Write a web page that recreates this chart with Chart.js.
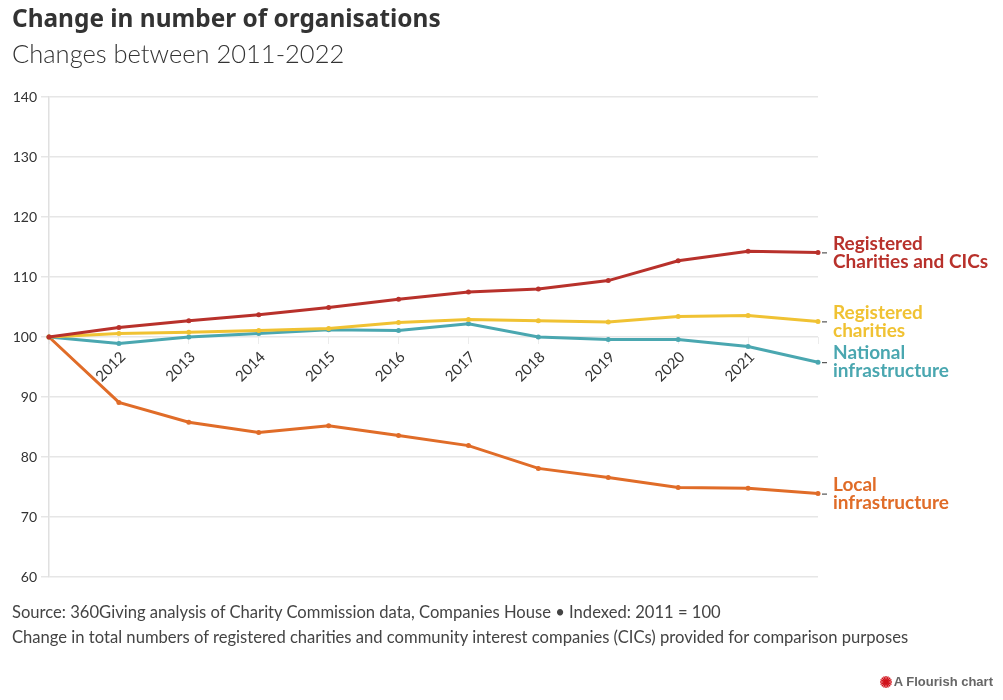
<!doctype html>
<html>
<head>
    <meta charset="utf-8">
    <title>Change in number of organisations</title>
    <script src="https://cdn.jsdelivr.net/npm/chart.js@4.4.0/dist/chart.umd.min.js"></script>
    <style>
    body {
        margin: 0;
        background: #fff;
        font-family: Lato, "Noto Sans", sans-serif;
        color: #333;
    }
    #wrap {
        position: relative;
        width: 1003px;
        height: 700px;
        overflow: hidden;
    }
    canvas { position: absolute; left: 0; top: 0; }
    .title {
        position: absolute; left: 12px; top: 3px;
        font-family: "Noto Sans", Lato, sans-serif;
        font-size: 24.4px; font-weight: bold; color: #333; line-height: 30px;
    }
    .subtitle {
        position: absolute; left: 12px; top: 38px;
        font-size: 25.5px; font-weight: 300; color: #333; line-height: 30px;
    }
    .notes {
        position: absolute; left: 12px; top: 600px;
        font-size: 16.6px; color: #444; line-height: 25px;
    }
    .brand {
        position: absolute; right: 10px; top: 674px;
        font-family: "Liberation Sans", Arial, sans-serif;
        font-size: 13px; font-weight: bold; color: #666;
    }
    .brand svg { vertical-align: -2px; margin-right: 2px; }
    </style>
</head>
<body>
<div id="wrap">
    <canvas id="canvas" width="1003" height="700"></canvas>
    <div class="title">Change in number of organisations</div>
    <div class="subtitle">Changes between 2011-2022</div>
    <div class="notes">
        Source: 360Giving analysis of Charity Commission data, Companies House • Indexed: 2011 = 100<br>
        Change in total numbers of registered charities and community interest companies (CICs) provided for comparison purposes
    </div>
    <div class="brand"><svg width="12" height="12" viewBox="-6 -6 12 12">
        <g stroke="#d1121b" stroke-width="1.4">
            <line x1="-6" y1="0" x2="6" y2="0"/><line x1="0" y1="-6" x2="0" y2="6"/>
            <line x1="-4.2" y1="-4.2" x2="4.2" y2="4.2"/><line x1="-4.2" y1="4.2" x2="4.2" y2="-4.2"/>
            <line x1="-5.5" y1="-2.3" x2="5.5" y2="2.3"/><line x1="-5.5" y1="2.3" x2="5.5" y2="-2.3"/>
            <line x1="-2.3" y1="-5.5" x2="2.3" y2="5.5"/><line x1="2.3" y1="-5.5" x2="-2.3" y2="5.5"/>
        </g><circle r="2.6" fill="#d1121b"/></svg>A Flourish chart</div>
</div>

<script>
    var years = ['2011', '2012', '2013', '2014', '2015', '2016', '2017', '2018', '2019', '2020', '2021', '2022'];

    var charitiesAndCics    = [100, 101.6, 102.7, 103.7, 104.9, 106.3, 107.5, 108.0, 109.4, 112.7, 114.3, 114.1];
    var registeredCharities = [100, 100.6, 100.8, 101.1, 101.4, 102.4, 102.9, 102.7, 102.5, 103.4, 103.6, 102.6];
    var nationalInfra       = [100, 98.9, 100.0, 100.6, 101.2, 101.1, 102.2, 100.0, 99.6, 99.6, 98.4, 95.8];
    var localInfra          = [100, 89.1, 85.8, 84.1, 85.2, 83.6, 81.9, 78.1, 76.6, 74.9, 74.8, 73.9];

    var yTicks = [60, 70, 80, 90, 100, 110, 120, 130, 140];

    var seriesLabels = [
        ['Registered', 'Charities and CICs'],
        ['Registered', 'charities'],
        ['National', 'infrastructure'],
        ['Local', 'infrastructure']
    ];
    var seriesColors = ['#b8312b', '#f0c233', '#4aa7b0', '#e06c28'];

    function makeSet(label, data, color) {
        return {
            label: label,
            data: data,
            borderColor: color,
            backgroundColor: color,
            borderWidth: 3,
            pointRadius: 2.5,
            pointHoverRadius: 3,
            pointBorderWidth: 0,
            tension: 0,
            clip: false
        };
    }

    // end-of-line labels, centred on the last point of each series
    var endLabels = {
        id: 'endLabels',
        afterDatasetsDraw: function(chart) {
            var ctx = chart.ctx;
            ctx.save();
            chart.data.datasets.forEach(function(ds, i) {
                var meta = chart.getDatasetMeta(i);
                var last = meta.data[meta.data.length - 1];
                var x = last.x, y = last.y;
                ctx.strokeStyle = '#333';
                ctx.lineWidth = 1;
                ctx.beginPath();
                ctx.moveTo(x + 4, y + 0.5);
                ctx.lineTo(x + 9, y + 0.5);
                ctx.stroke();
                ctx.fillStyle = ds.borderColor;
                ctx.font = 'bold 19px Lato, "Noto Sans", sans-serif';
                ctx.textAlign = 'left';
                ctx.textBaseline = 'middle';
                var lines = seriesLabels[i];
                ctx.fillText(lines[0], x + 15, y - 9);
                ctx.fillText(lines[1], x + 15, y + 9);
            });
            ctx.restore();
        }
    };

    window.onload = function() {
        var ctx = document.getElementById('canvas').getContext('2d');
        window.myLine = new Chart(ctx, {
            type: 'line',
            data: {
                labels: years,
                datasets: [
                    makeSet('Registered Charities and CICs', charitiesAndCics, seriesColors[0]),
                    makeSet('Registered charities', registeredCharities, seriesColors[1]),
                    makeSet('National infrastructure', nationalInfra, seriesColors[2]),
                    makeSet('Local infrastructure', localInfra, seriesColors[3])
                ]
            },
            options: {
                responsive: false,
                animation: false,
                layout: { padding: { top: 97, left: 0, right: 185, bottom: 123 } },
                plugins: {
                    legend: { display: false },
                    title: { display: false },
                    tooltip: { enabled: false }
                },
                scales: {
                    x: {
                        type: 'category',
                        offset: false,
                        position: { y: 100 },
                        grid: { display: true, drawOnChartArea: false, color: '#ececec', tickLength: 7 },
                        border: { display: false },
                        ticks: {
                            autoSkip: false,
                            minRotation: 45,
                            maxRotation: 45,
                            padding: 4,
                            labelOffset: 4,
                            color: '#333',
                            font: { family: 'Lato, "Noto Sans", sans-serif', size: 15 },
                            callback: function(val, idx) {
                                return (idx === 0 || idx === years.length - 1) ? '' : years[idx];
                            }
                        }
                    },
                    y: {
                        min: 60,
                        max: 140,
                        afterFit: function(scale) { scale.width = 49; },
                        afterBuildTicks: function(scale) {
                            scale.ticks = yTicks.map(function(v) { return { value: v }; });
                        },
                        grid: { color: '#e6e6e6', lineWidth: 1.5, tickLength: 8 },
                        border: { color: '#e0e0e0', width: 1.5 },
                        ticks: {
                            padding: 4,
                            color: '#333',
                            font: { family: 'Lato, "Noto Sans", sans-serif', size: 14 }
                        }
                    }
                }
            },
            plugins: [endLabels]
        });
    };
</script>
</body>
</html>
